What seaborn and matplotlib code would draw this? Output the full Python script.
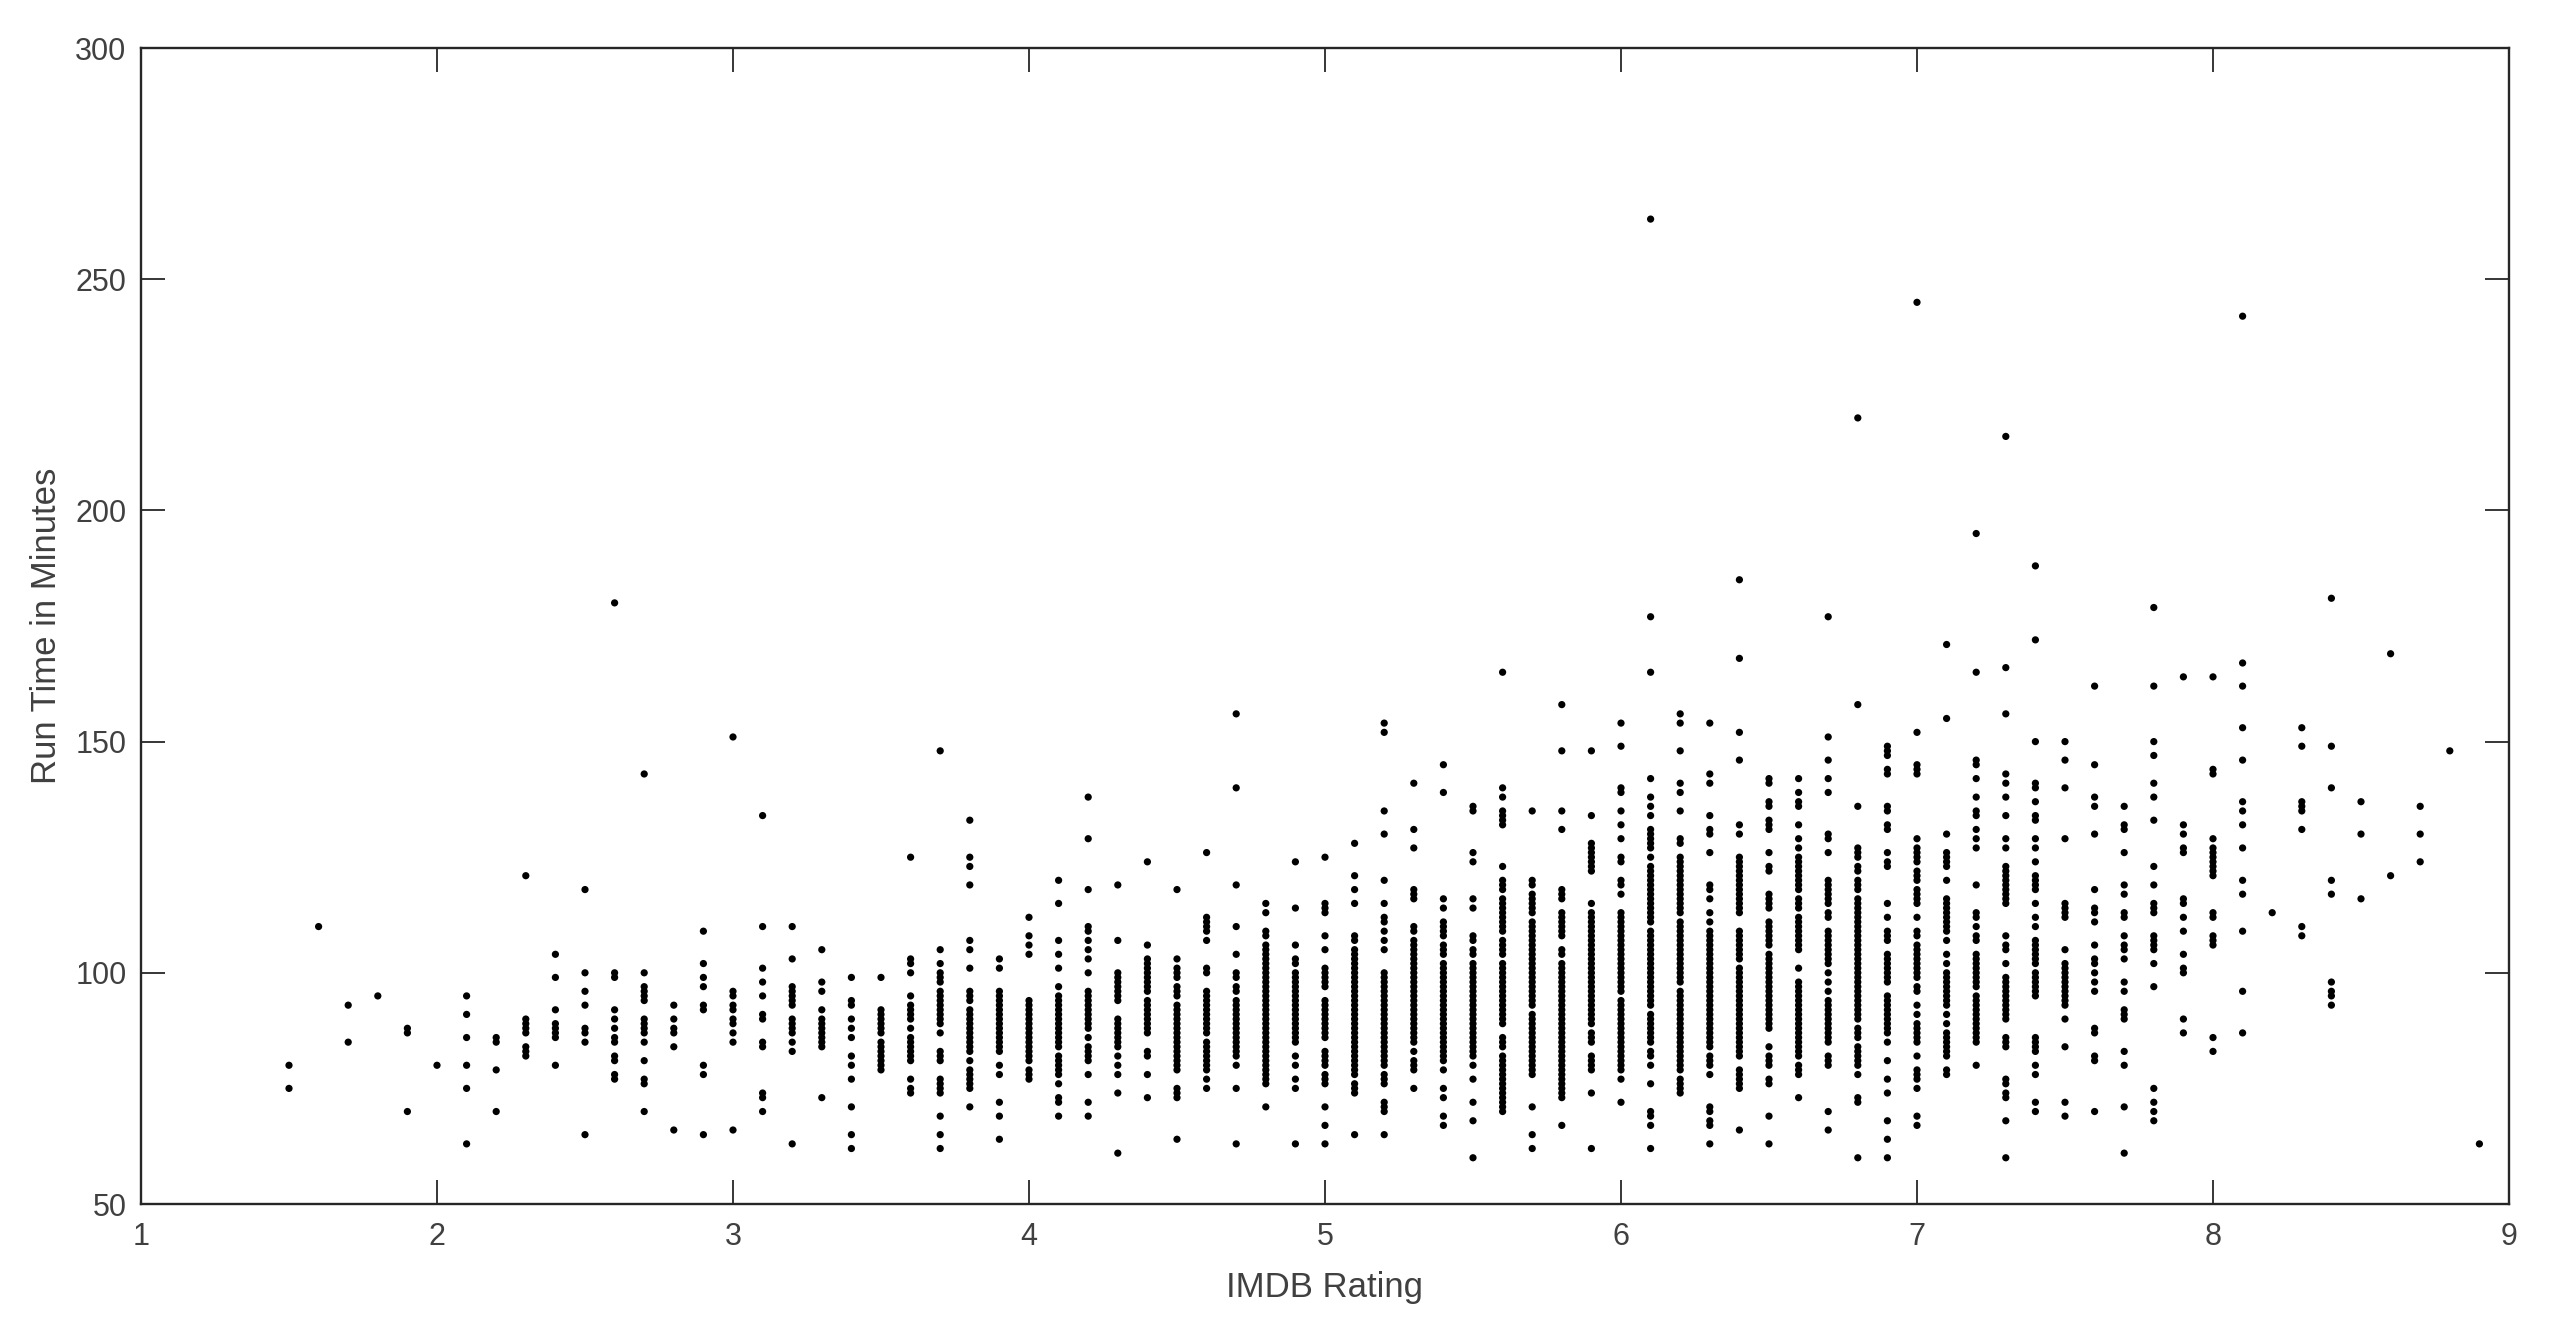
#!/usr/bin/env python3
"""
IMDB rating vs run time scatter
"""

import matplotlib
matplotlib.use('Agg')
import matplotlib.pyplot as plt
import pandas as pd
import seaborn as sns

# run times in minutes for each rating value
rt_15 = [80, 75]
rt_16 = [110]
rt_17 = [93, 85]
rt_18 = [95]
rt_19 = [88, 87, 70]
rt_20 = [80]
rt_21 = [95, 91, 86, 80, 75, 63]
rt_22 = [86, 85, 79, 70]
rt_23 = [121, 90, 89, 88, 87, 84, 83, 82]
rt_24 = [104, 99, 92, 89, 88, 87, 86, 80]
rt_25 = [118, 100, 96, 93, 88, 87, 85, 65]
rt_26 = [180, 100, 99, 92, 90, 88, 86, 85, 82, 81, 78, 77]
rt_27 = [143, 100, 97, 96, 95, 94, 90, 89, 88, 87, 85, 81, 77, 76, 70]
rt_28 = [93, 90, 88, 87, 84, 66]
rt_29 = [109, 102, 99, 97, 93, 92, 80, 78, 65]
rt_30 = [151, 96, 95, 93, 92, 90, 89, 87, 85, 66]
rt_31 = [134, 110, 101, 98, 95, 91, 90, 85, 84, 74, 73, 70]
rt_32 = [110, 103, 97, 96, 95, 94, 93, 90, 89, 88, 87, 85, 83, 63]
rt_33 = [105, 98, 96, 92, 90, 89, 88, 87, 86, 85, 84, 73]
rt_34 = [99, 94, 93, 90, 88, 86, 82, 80, 77, 71, 65, 62]
rt_35 = [99, 92, 91, 90, 89, 88, 87, 85, 84, 83, 82, 81, 80, 79]
rt_36 = [125, 103, 102, 100, 95, 93, 92, 91, 90, 88, 86, 85, 84, 83, 82, 81, 77, 75, 74]
rt_37 = [148, 105, 102, 100, 99, 98, 96, 95, 94, 93, 92, 91, 90, 89, 87, 83, 82, 81,
         77, 76, 75, 74, 69, 65, 62]
rt_38 = [133, 125, 123, 119, 107, 105, 101, 96, 95, 94, 92, 91, 90, 89, 88, 87, 86, 85,
         84, 83, 81, 79, 78, 77, 76, 75, 71]
rt_39 = [103, 101, 96, 95, 94, 93, 92, 91, 90, 89, 88, 87, 86, 85, 84, 83, 80, 78, 72, 69, 64]
rt_40 = [112, 108, 106, 104, 94, 93, 92, 91, 90, 89, 88, 87, 86, 85, 84, 83, 82, 81, 79, 78, 77]
rt_41 = [120, 115, 107, 104, 101, 97, 95, 94, 93, 92, 91, 90, 89, 88, 87, 86, 85, 84,
         82, 81, 80, 79, 78, 76, 73, 72, 69]
rt_42 = [138, 129, 118, 110, 109, 107, 105, 103, 100, 96, 95, 94, 93, 92, 91, 90, 89, 88,
         86, 84, 83, 82, 81, 78, 72, 69]
rt_43 = [119, 107, 100, 99, 98, 97, 96, 95, 94, 90, 89, 88, 87, 86, 85, 84, 82, 80, 78, 74, 61]
rt_44 = [124, 106, 103, 102, 101, 100, 99, 98, 97, 96, 94, 93, 92, 91, 90, 89, 88, 87,
         83, 82, 78, 73]
rt_45 = [118, 103, 101, 100, 99, 97, 96, 95, 93, 92, 91, 90, 89, 88, 87, 86, 85, 84, 83,
         82, 81, 80, 79, 75, 74, 73, 64]
rt_46 = [126, 112, 111, 110, 109, 107, 101, 100, 96, 95, 94, 93, 92, 91, 90, 89, 88, 87,
         85, 84, 83, 82, 81, 80, 79, 77, 75]
rt_47 = [156, 140, 119, 110, 104, 100, 99, 97, 96, 94, 93, 92, 91, 90, 89, 88, 87, 86,
         85, 84, 83, 82, 80, 75, 63]
rt_48 = [115, 113, 109, 108, 106, 105, 104, 103, 102, 101, 100, 99, 98, 97, 96, 95, 94,
         93, 92, 91, 90, 89, 88, 87, 86, 85, 84, 83, 82, 81, 80, 79, 78, 77, 76, 71]
rt_49 = [124, 114, 106, 103, 102, 100, 99, 98, 97, 96, 95, 94, 93, 92, 91, 90, 89, 88,
         87, 86, 85, 82, 80, 77, 75, 63]
rt_50 = [125, 115, 114, 113, 108, 105, 101, 100, 99, 98, 97, 94, 93, 92, 91, 90, 89, 88,
         87, 86, 83, 82, 81, 80, 78, 77, 76, 71, 67, 63]
rt_51 = [128, 121, 118, 115, 108, 107, 105, 104, 103, 102, 101, 100, 99, 98, 97, 96, 95,
         94, 93, 92, 91, 90, 89, 88, 87, 86, 85, 84, 83, 82, 81, 80, 79, 78, 76, 75, 74, 65]
rt_52 = [154, 152, 135, 130, 120, 115, 112, 111, 109, 107, 105, 100, 99, 98, 97, 96, 95,
         94, 93, 92, 91, 90, 89, 88, 87, 86, 85, 84, 83, 82, 81, 80, 78, 77, 76, 72, 71, 70, 65]
rt_53 = [141, 131, 127, 118, 117, 116, 110, 109, 107, 106, 105, 104, 103, 102, 101, 100,
         99, 98, 97, 96, 95, 94, 93, 92, 91, 90, 89, 88, 87, 86, 85, 83, 81, 80, 79, 75]
rt_54 = [145, 139, 116, 114, 111, 110, 109, 108, 106, 105, 104, 102, 101, 100, 99, 98, 97,
         96, 95, 94, 93, 92, 91, 90, 89, 88, 87, 86, 85, 84, 83, 82, 81, 79, 75, 73, 69, 67]
rt_55 = [136, 135, 126, 124, 116, 114, 108, 107, 105, 104, 102, 101, 100, 99, 98, 97, 96,
         95, 94, 93, 92, 91, 90, 89, 88, 87, 86, 85, 84, 83, 82, 80, 77, 72, 68, 60]
rt_56 = [165, 140, 138, 135, 134, 133, 132, 123, 120, 119, 118, 116, 115, 114, 113, 112,
         111, 110, 109, 107, 106, 105, 104, 102, 101, 100, 99, 98, 97, 96, 95, 94, 93, 92,
         91, 90, 89, 86, 85, 84, 82, 81, 80, 79, 78, 77, 76, 75, 74, 73, 72, 71, 70]
rt_57 = [135, 120, 119, 117, 116, 115, 114, 113, 111, 110, 109, 108, 107, 106, 105, 104,
         103, 102, 101, 100, 99, 98, 97, 96, 95, 94, 93, 91, 90, 89, 88, 87, 86, 85, 84,
         83, 82, 81, 80, 79, 78, 71, 65, 62]
rt_58 = [158, 148, 135, 131, 118, 117, 116, 113, 112, 111, 110, 109, 108, 105, 104, 102,
         101, 100, 99, 98, 97, 96, 95, 94, 93, 92, 91, 90, 89, 88, 87, 86, 85, 84, 83, 82,
         81, 80, 79, 78, 77, 76, 75, 74, 73, 67]
rt_59 = [148, 134, 128, 127, 126, 125, 124, 123, 122, 115, 113, 112, 111, 110, 109, 108,
         107, 106, 105, 104, 103, 102, 101, 100, 99, 98, 97, 96, 95, 94, 93, 92, 91, 90,
         89, 87, 86, 85, 82, 81, 80, 79, 74, 62]
rt_60 = [154, 149, 140, 139, 135, 132, 129, 125, 124, 120, 119, 117, 113, 112, 111, 110,
         109, 108, 107, 106, 105, 104, 103, 102, 101, 100, 99, 98, 97, 96, 94, 93, 92, 91,
         90, 89, 88, 87, 86, 85, 84, 83, 82, 81, 80, 79, 77, 72]
rt_61 = [263, 177, 165, 142, 138, 136, 134, 131, 130, 129, 128, 127, 125, 123, 122, 121,
         120, 119, 118, 117, 116, 115, 114, 113, 112, 111, 109, 108, 107, 106, 105, 104,
         103, 102, 101, 100, 99, 98, 97, 96, 95, 94, 93, 91, 90, 89, 88, 87, 86, 85, 83,
         82, 80, 76, 70, 69, 67, 62]
rt_62 = [156, 154, 148, 141, 139, 135, 129, 128, 125, 124, 123, 122, 121, 120, 119, 118,
         117, 116, 115, 114, 113, 111, 110, 109, 108, 107, 106, 105, 104, 103, 102, 101,
         100, 99, 98, 96, 95, 94, 93, 92, 91, 90, 89, 88, 87, 86, 85, 84, 83, 82, 81, 80,
         79, 77, 76, 75, 74]
rt_63 = [154, 143, 141, 134, 131, 130, 126, 119, 118, 116, 113, 111, 109, 108, 107, 106,
         105, 104, 103, 102, 101, 100, 99, 98, 97, 96, 95, 94, 93, 92, 91, 90, 89, 88, 87,
         86, 85, 84, 82, 81, 80, 78, 71, 70, 68, 67, 63]
rt_64 = [185, 168, 152, 146, 132, 130, 125, 124, 123, 122, 121, 120, 119, 118, 117, 116,
         115, 114, 113, 109, 108, 107, 106, 105, 104, 103, 101, 100, 99, 98, 97, 96, 95,
         94, 93, 92, 91, 90, 89, 88, 87, 86, 85, 84, 83, 82, 79, 78, 77, 76, 75, 66]
rt_65 = [142, 141, 137, 136, 133, 132, 131, 126, 123, 122, 117, 116, 115, 114, 111, 110,
         109, 108, 107, 106, 104, 103, 102, 101, 100, 99, 98, 97, 96, 95, 94, 93, 92, 91,
         90, 89, 88, 84, 82, 81, 80, 77, 76, 69, 63]
rt_66 = [142, 139, 137, 136, 132, 129, 127, 125, 124, 123, 122, 121, 120, 119, 118, 116,
         115, 114, 112, 111, 110, 109, 108, 107, 106, 105, 101, 98, 97, 96, 95, 94, 93, 92,
         91, 90, 89, 88, 87, 86, 85, 84, 83, 82, 80, 79, 78, 73]
rt_67 = [177, 151, 146, 142, 139, 130, 129, 126, 120, 119, 118, 117, 116, 115, 113, 112,
         109, 108, 107, 106, 105, 104, 103, 102, 100, 98, 96, 94, 93, 92, 91, 90, 89, 88,
         87, 86, 85, 82, 81, 80, 70, 66]
rt_68 = [220, 158, 136, 127, 126, 125, 123, 122, 120, 119, 118, 116, 115, 114, 113, 112,
         111, 110, 109, 108, 107, 106, 105, 104, 103, 102, 101, 100, 99, 98, 97, 96, 95,
         94, 93, 92, 91, 90, 88, 87, 86, 84, 83, 82, 81, 80, 78, 73, 72, 60]
rt_69 = [149, 148, 147, 144, 143, 136, 135, 132, 131, 126, 124, 123, 115, 112, 109, 108,
         107, 104, 103, 102, 101, 100, 99, 98, 95, 94, 93, 92, 91, 90, 89, 88, 87, 85, 81,
         77, 74, 68, 64, 60]
rt_70 = [245, 152, 145, 144, 143, 129, 127, 126, 125, 124, 122, 121, 120, 118, 117, 116,
         115, 112, 109, 108, 106, 105, 104, 103, 102, 101, 100, 99, 97, 96, 93, 91, 89, 88,
         87, 86, 85, 82, 79, 78, 77, 75, 69, 67]
rt_71 = [171, 155, 130, 126, 125, 124, 123, 120, 116, 115, 114, 113, 112, 111, 110, 109,
         107, 104, 102, 100, 99, 98, 97, 96, 95, 94, 93, 91, 89, 87, 86, 85, 84, 83, 82, 79, 78]
rt_72 = [195, 165, 146, 145, 142, 138, 135, 134, 131, 129, 127, 119, 113, 112, 110, 108,
         107, 104, 103, 102, 101, 100, 99, 98, 97, 95, 94, 93, 92, 91, 90, 89, 88, 87, 86,
         85, 80]
rt_73 = [216, 166, 156, 143, 141, 138, 134, 129, 127, 123, 122, 121, 120, 119, 118, 117,
         116, 115, 108, 106, 105, 102, 99, 98, 97, 96, 95, 94, 93, 92, 91, 90, 86, 85, 84,
         77, 76, 74, 73, 68, 60]
rt_74 = [188, 172, 150, 141, 140, 137, 134, 133, 129, 127, 124, 121, 120, 119, 118, 115,
         112, 110, 107, 106, 105, 104, 103, 102, 100, 99, 98, 97, 96, 95, 86, 85, 84, 83,
         80, 78, 72, 70]
rt_75 = [150, 146, 140, 129, 115, 114, 113, 112, 105, 102, 101, 100, 99, 98, 97, 96, 95,
         94, 93, 90, 84, 72, 69]
rt_76 = [162, 145, 138, 136, 130, 118, 114, 113, 111, 106, 103, 102, 100, 98, 96, 88, 87,
         82, 81, 70]
rt_77 = [136, 132, 131, 126, 119, 117, 113, 112, 108, 106, 105, 103, 98, 96, 92, 91, 90,
         83, 80, 71, 61]
rt_78 = [179, 162, 150, 147, 141, 138, 133, 123, 119, 115, 114, 113, 108, 107, 106, 105,
         102, 97, 75, 72, 70, 68]
rt_79 = [164, 132, 130, 127, 126, 116, 115, 112, 109, 104, 101, 100, 90, 87]
rt_80 = [164, 144, 143, 129, 127, 126, 125, 124, 123, 122, 121, 113, 112, 108, 107, 106, 86, 83]
rt_81 = [242, 167, 162, 153, 146, 137, 135, 132, 127, 120, 117, 109, 96, 87]
rt_82 = [113]
rt_83 = [153, 149, 137, 136, 135, 131, 110, 108]
rt_84 = [181, 149, 140, 120, 117, 98, 96, 95, 93]
rt_85 = [137, 130, 116]
rt_86 = [169, 121]
rt_87 = [136, 130, 124]
rt_88 = [148]
rt_89 = [63]

ratings = [1.5, 1.6, 1.7, 1.8, 1.9, 2.0, 2.1, 2.2, 2.3, 2.4, 2.5, 2.6, 2.7, 2.8, 2.9,
           3.0, 3.1, 3.2, 3.3, 3.4, 3.5, 3.6, 3.7, 3.8, 3.9, 4.0, 4.1, 4.2, 4.3, 4.4,
           4.5, 4.6, 4.7, 4.8, 4.9, 5.0, 5.1, 5.2, 5.3, 5.4, 5.5, 5.6, 5.7, 5.8, 5.9,
           6.0, 6.1, 6.2, 6.3, 6.4, 6.5, 6.6, 6.7, 6.8, 6.9, 7.0, 7.1, 7.2, 7.3, 7.4,
           7.5, 7.6, 7.7, 7.8, 7.9, 8.0, 8.1, 8.2, 8.3, 8.4, 8.5, 8.6, 8.7, 8.8, 8.9]
run_times = [rt_15, rt_16, rt_17, rt_18, rt_19, rt_20, rt_21, rt_22, rt_23, rt_24, rt_25,
             rt_26, rt_27, rt_28, rt_29, rt_30, rt_31, rt_32, rt_33, rt_34, rt_35, rt_36,
             rt_37, rt_38, rt_39, rt_40, rt_41, rt_42, rt_43, rt_44, rt_45, rt_46, rt_47,
             rt_48, rt_49, rt_50, rt_51, rt_52, rt_53, rt_54, rt_55, rt_56, rt_57, rt_58,
             rt_59, rt_60, rt_61, rt_62, rt_63, rt_64, rt_65, rt_66, rt_67, rt_68, rt_69,
             rt_70, rt_71, rt_72, rt_73, rt_74, rt_75, rt_76, rt_77, rt_78, rt_79, rt_80,
             rt_81, rt_82, rt_83, rt_84, rt_85, rt_86, rt_87, rt_88, rt_89]

x_ticks = [1, 2, 3, 4, 5, 6, 7, 8, 9]
y_ticks = [50, 100, 150, 200, 250, 300]

INK = '#262626'
TEXT = '#404040'
W, H = 2551, 1330


def main():
    sns.set_style('white')
    plt.rcParams['font.family'] = ['Liberation Sans', 'DejaVu Sans']

    rows = [(r, t) for r, times in zip(ratings, run_times) for t in times]
    df = pd.DataFrame(rows, columns=['rating', 'run_time'])

    fig = plt.figure(figsize=(W / 100, H / 100), dpi=100)
    ax = fig.add_axes([141 / W, 1 - 1204 / H, (2509 - 141) / W, (1204 - 48) / H])

    sns.scatterplot(data=df, x='rating', y='run_time', ax=ax, color='black',
                    s=27, linewidth=0, edgecolor='none', legend=False)

    ax.set_xlim(1, 9)
    ax.set_ylim(50, 300)
    ax.set_xticks(x_ticks)
    ax.set_yticks(y_ticks)
    ax.tick_params(axis='both', which='both', direction='in', length=17, width=1.3,
                   color=INK, labelcolor=TEXT, labelsize=22,
                   top=True, right=True, bottom=True, left=True)
    ax.tick_params(axis='x', pad=13)
    ax.tick_params(axis='y', pad=10.5)
    ax.set_xlabel('IMDB Rating', fontsize=25, color=TEXT, labelpad=14)
    ax.set_ylabel('Run Time in Minutes', fontsize=25, color=TEXT, labelpad=9)
    for spine in ax.spines.values():
        spine.set_visible(True)
        spine.set_color(INK)
        spine.set_linewidth(1.7)

    fig.savefig('out.png', dpi=100, facecolor='white')


if __name__ == '__main__':
    main()
